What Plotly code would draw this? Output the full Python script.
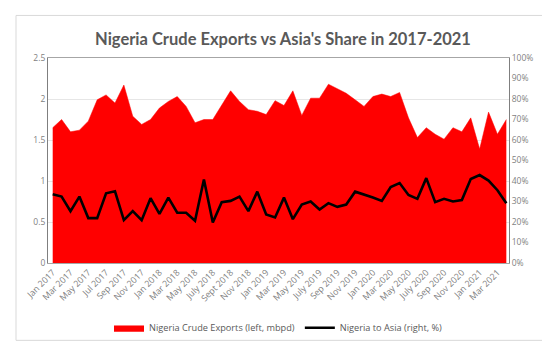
import plotly.graph_objects as go

months = ["Jan 2017","Feb 2017","Mar 2017","Apr 2017","May 2017","Jun 2017","Jul 2017","Aug 2017",
          "Sep 2017","Oct 2017","Nov 2017","Dec 2017","Jan 2018","Feb 2018","Mar 2018","Apr 2018",
          "May 2018","Jun 2018","July 2018","Aug 2018","Sept 2018","Oct 2018","Nov 2018","Dec 2018",
          "Jan 2019","Feb 2019","Mar 2019","Apr 2019","May 2019","Jun 2019","July 2019","Aug 2019",
          "Sep 2019","Oct 2019","Nov 2019","Dec 2019","Jan 2020","Feb 2020","Mar 2020","Apr 2020",
          "May 2020","Jun 2020","July 2020","Aug 2020","Sep 2020","Oct 2020","Nov 2020","Dec 2020",
          "Jan 2021","Feb 2021","Mar 2021","Apr 2021"]

exports_mbpd = [1.65,1.75,1.60,1.62,1.73,1.99,2.05,1.95,2.17,1.79,1.69,1.75,1.89,1.97,2.03,1.91,
                1.71,1.75,1.75,1.93,2.10,1.97,1.87,1.85,1.81,1.98,1.92,2.10,1.80,2.01,2.01,2.18,
                2.13,2.07,1.99,1.91,2.03,2.06,2.03,2.08,1.77,1.53,1.65,1.57,1.51,1.65,1.60,1.77,
                1.39,1.84,1.57,1.75]

asia_share_pct = [33.5,32.4,25.3,32.4,21.9,21.9,34.0,35.0,20.9,25.3,20.9,31.6,24.0,31.9,24.5,24.5,
                  20.6,40.7,19.8,29.7,30.3,32.4,25.3,34.8,23.7,22.2,31.9,21.4,28.5,30.0,26.1,29.2,
                  27.4,28.5,34.8,33.5,31.9,30.3,37.1,39.0,33.2,31.3,41.4,29.7,31.3,30.0,30.7,41.0,
                  42.9,40.2,35.5,29.2]

left_ticks = [0, 0.5, 1, 1.5, 2, 2.5]
left_tick_text = ["0", "0.5", "1", "1.5", "2", "2.5"]
right_ticks = [0, 10, 20, 30, 40, 50, 60, 70, 80, 90, 100]
right_tick_text = [f"{v}%" for v in right_ticks]

idx = list(range(len(months)))
tick_idx = idx[::2]
tick_text = [months[i] for i in tick_idx]

FONT = "Open Sans"
GRAY = "#7f7f7f"

fig = go.Figure()
fig.add_trace(go.Scatter(
    x=idx, y=exports_mbpd, name="Nigeria Crude Exports (left, mbpd)",
    mode="lines", line=dict(color="#ff0000", width=0.5), fill="tozeroy",
    fillcolor="#ff0000", yaxis="y"))
fig.add_trace(go.Scatter(
    x=idx, y=asia_share_pct, name="Nigeria to Asia (right, %)",
    mode="lines", line=dict(color="#000000", width=2.6), yaxis="y2"))

fig.update_layout(
    width=550, height=346,
    margin=dict(l=40, r=49, t=50, b=84),
    paper_bgcolor="white", plot_bgcolor="white",
    font=dict(family=FONT, color=GRAY, size=8),
    title=dict(text="Nigeria Crude Exports vs Asia's Share in 2017-2021",
               x=0.5, xanchor="center", y=1 - 31/346, yanchor="middle",
               font=dict(family="Lato", size=16.5, color="#595959", weight="bold")),
    xaxis=dict(range=[-0.53, 51.3], tickmode="array", tickvals=tick_idx, ticktext=tick_text,
               tickangle=-45, showgrid=False, showline=True, linecolor="#a6a6a6",
               linewidth=1, mirror=True, ticks="", tickfont=dict(size=8.8, color=GRAY),
               zeroline=False),
    yaxis=dict(range=[0, 2.5], tickmode="array", tickvals=left_ticks, ticktext=left_tick_text,
               showgrid=True, gridcolor="#e6e6e6", showline=True, linecolor="#7f7f7f",
               linewidth=1, ticks="", zeroline=False, tickfont=dict(size=8.5, color=GRAY)),
    yaxis2=dict(range=[0, 100], tickmode="array", tickvals=right_ticks, ticktext=right_tick_text,
                overlaying="y", side="right", showgrid=False, showline=True,
                linecolor="#7f7f7f", linewidth=1, ticks="", zeroline=False,
                tickfont=dict(size=8.5, color=GRAY)),
    legend=dict(orientation="h", x=0.5, xanchor="center", y=(262-329)/212, yanchor="middle",
                font=dict(size=9.2, color="#595959"), bgcolor="rgba(0,0,0,0)",
                itemwidth=30),
    showlegend=True,
    shapes=[dict(type="rect", xref="paper", yref="paper",
                 x0=(8-40)/461, x1=(542-40)/461, y0=(262-342)/212, y1=(262-6)/212,
                 line=dict(color="#d9d9d9", width=1), fillcolor="rgba(0,0,0,0)", layer="below")],
)

fig.write_html("out.html")
